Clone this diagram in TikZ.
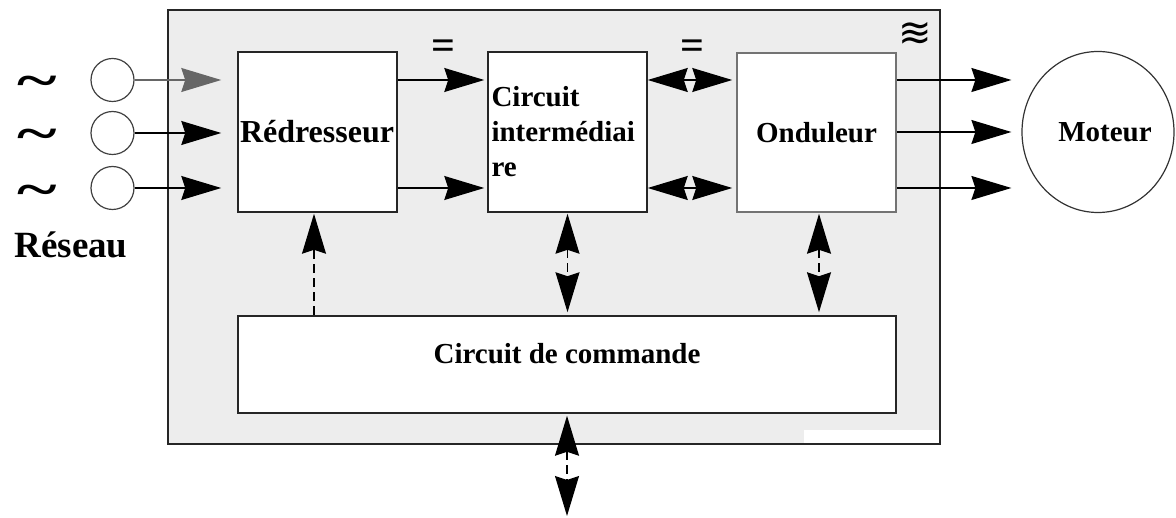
\documentclass[tikz,border=0pt]{standalone}
\usepackage{fontspec}
\setmainfont{Liberation Serif}
\newfontfamily\symfont{DejaVu Sans}
\usetikzlibrary{arrows.meta,shapes.geometric,calc}
\definecolor{panel}{HTML}{EDEDED}
\tikzset{
  lbl/.style={font=\bfseries\fontsize{29}{35}\selectfont},
  blk/.style={draw=black!85, line width=1.5pt, fill=white, inner sep=0pt},
  tip/.tip={Stealth[length=40pt,width=24pt,inset=4pt]},
  arr/.style={-tip, line width=1.3pt},
  darr/.style={tip-tip, line width=1.3pt},
  dsh/.style={dash pattern=on 9pt off 5pt},
  src/.style={circle, draw=black!75, line width=1.2pt, minimum size=43pt, inner sep=0pt},
  tild/.style={inner sep=0pt, font=\bfseries\fontsize{46}{46}\selectfont},
  eqs/.style={inner sep=0pt, font=\bfseries\fontsize{42}{42}\selectfont},
}
\begin{document}
\begin{tikzpicture}[x=1pt,y=-1pt]
\useasboundingbox (0,0) rectangle (1176,518);
% panel
\draw[line width=1.6pt, draw=black!85, fill=panel] (168,10) rectangle (940,444);
\fill[white] (804,430) rectangle (938.5,443);
% blocks
\node[blk, minimum width=159pt, minimum height=160pt, text width=155pt, align=left, font=\bfseries\fontsize{32}{38}\selectfont] (red) at (317.5,132) {Rédresseur};
\node[blk, minimum width=159pt, minimum height=160pt, text width=152pt, align=left, lbl] (ci) at (567.5,132) {Circuit\\intermédiai\\re};
\node[blk, draw=black!55, minimum width=159pt, minimum height=159pt, align=center, lbl] (ond) at (816.5,132.5) {Onduleur};
\node[blk, minimum width=658pt, minimum height=97pt] (cmd) at (567,364.5) {};
\node[lbl] (cmdtxt) at (567,354) {Circuit de commande};
% motor
\node[ellipse, draw=black!80, line width=1.2pt, minimum width=152pt, minimum height=161pt, inner sep=0pt, lbl] (mot) at (1098,132) {\hspace*{14pt}Moteur};
% sources
\node[src] (c1) at (112.5,80) {};
\node[src] (c2) at (112.5,133) {};
\node[src] (c3) at (112.5,188) {};
\node[tild] (t1) at (37,87) {\scalebox{1.65}[1.1]{\textasciitilde}};
\node[tild] (t2) at (37,140) {\scalebox{1.65}[1.1]{\textasciitilde}};
\node[tild] (t3) at (37,196) {\scalebox{1.65}[1.1]{\textasciitilde}};
\node[font=\bfseries\fontsize{37}{42}\selectfont] (res) at (71,245) {Réseau};
% symbols
\node[eqs] (eq1) at (443,50) {=};
\node[eqs] (eq2) at (692,50) {=};
\node[font=\symfont\fontsize{40}{40}\selectfont, inner sep=0pt] (tri) at (915,34) {≋};
% inputs
\draw[arr, draw=black!60, shorten >=16pt] (c1.east) -- (c1 -| red.west);
\draw[arr, shorten >=16pt] (c2.east) -- (c2 -| red.west);
\draw[arr, shorten >=16pt] (c3.east) -- (c3 -| red.west);
% red -> ci
\draw[arr, shorten >=3pt] (red.east |- c1) -- (ci.west |- c1);
\draw[arr, shorten >=3pt] (red.east |- c3) -- (ci.west |- c3);
% ci <-> ond
\draw[darr, shorten >=4pt] (ci.east |- c1) -- (ond.west |- c1);
\draw[darr, shorten >=4pt] (ci.east |- c3) -- (ond.west |- c3);
% ond -> motor
\draw[arr, shorten >=10pt] (ond.east |- c1) -- (mot.west |- c1);
\draw[arr, shorten >=10pt] (ond.east |- mot.west) -- (mot.west);
\draw[arr, shorten >=10pt] (ond.east |- c3) -- (mot.west |- c3);
% control links
\draw[arr, dsh, shorten >=1pt] ($(cmd.north -| red.south)+(-3.5,0)$) -- ($(red.south)+(-3.5,0)$);
\draw[darr, dsh, shorten <=1pt, shorten >=3pt] (ci.south) -- (cmd.north -| ci.south);
\draw[darr, dsh, shorten <=1pt, shorten >=3pt] ($(ond.south)+(2.5,0)$) -- ($(cmd.north -| ond.south)+(2.5,0)$);
\coordinate (ext) at (567,516);
\draw[darr, dsh, shorten <=2pt] (cmd.south) -- (ext);
\end{tikzpicture}
\end{document}
